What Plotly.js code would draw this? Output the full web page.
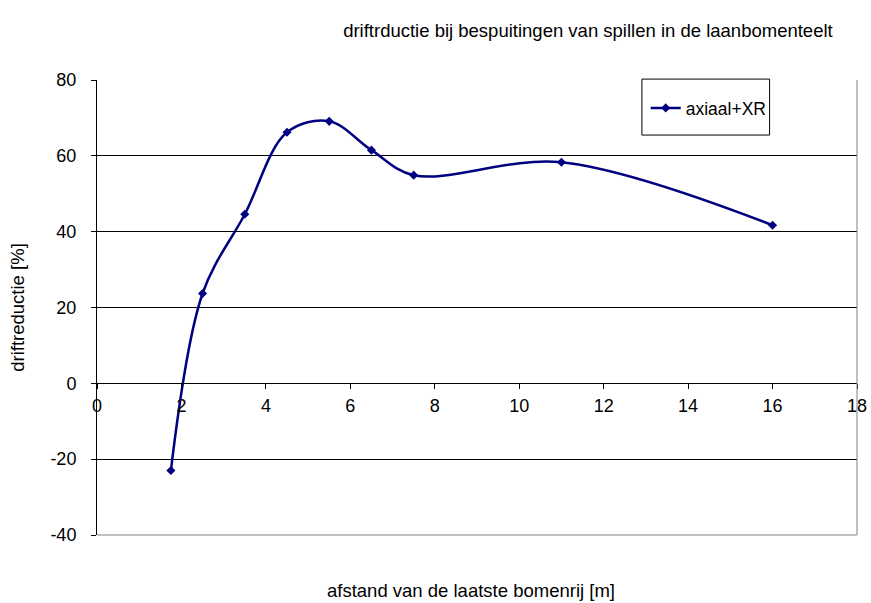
<!DOCTYPE html>
<html>
<head>
<meta charset="utf-8">
<script src="https://cdn.plot.ly/plotly-3.0.1.min.js"></script>
<style>html,body{margin:0;padding:0;background:#fff;}#chart{width:871px;height:603px;}</style>
</head>
<body>
<div id="chart"></div>
<script>
const distances = [1.75, 2.5, 3.5, 4.5, 5.5, 6.5, 7.5, 11, 16];
const reduction = [-23, 23.7, 44.6, 66.2, 69.1, 61.5, 54.9, 58.3, 41.7];
const seriesName = 'axiaal+XR';
const xTicks = [0, 2, 4, 6, 8, 10, 12, 14, 16, 18];
const yTicks = [-40, -20, 0, 20, 40, 60, 80];

const tickFont = {family: 'Arial', size: 18, color: '#000'};
const titleFont = {family: 'Arial', size: 18.5, color: '#000'};
const legendFont = {family: 'Arial', size: 17.5, color: '#000'};

const trace = {
  x: distances, y: reduction, name: seriesName,
  type: 'scatter', mode: 'lines+markers',
  line: {color: '#000080', width: 2.5, shape: 'spline', smoothing: 1},
  marker: {symbol: 'diamond', size: 7, color: '#000080'}
};

const layout = {
  width: 871, height: 603,
  margin: {l: 97, r: 14, t: 80, b: 68},
  paper_bgcolor: '#fff', plot_bgcolor: '#fff',
  font: tickFont,
  title: {text: 'driftrductie bij bespuitingen van spillen in de laanbomenteelt',
          font: titleFont,
          x: 0.675, xanchor: 'center', y: 0.949, yanchor: 'middle'},
  showlegend: true,
  legend: {x: 0.722, y: 0.978, xanchor: 'left', yanchor: 'top',
           bgcolor: 'rgba(0,0,0,0)', borderwidth: 0,
           font: legendFont},
  xaxis: {
    range: [0, 18], tickvals: xTicks, ticktext: xTicks.map(String),
    anchor: 'free', position: 1/3,
    showgrid: false, zeroline: false,
    showline: true, linecolor: '#000', linewidth: 1,
    ticks: 'outside', ticklen: 5, tickcolor: '#000',
    ticklabelstandoff: 1,
    tickfont: tickFont,
    title: {text: ''}
  },
  yaxis: {
    range: [-40, 80], tickvals: yTicks, ticktext: yTicks.map(String),
    showgrid: true, gridcolor: '#000', gridwidth: 1,
    zeroline: false,
    showline: true, linecolor: '#000', linewidth: 1,
    ticks: 'outside', ticklen: 5, tickcolor: '#000',
    ticklabelstandoff: 11,
    tickfont: tickFont,
    title: {text: 'driftreductie [%]', font: titleFont, standoff: 20}
  },
  annotations: [{
    text: 'afstand van de laatste bomenrij [m]', xref: 'paper', yref: 'paper',
    x: 0.492, y: -0.122, xanchor: 'center', yanchor: 'middle', showarrow: false,
    font: titleFont
  }],
  shapes: [
    {type: 'line', xref: 'paper', yref: 'paper', x0: 1, x1: 1, y0: 0, y1: 1,
     line: {color: '#808080', width: 1}},
    {type: 'line', xref: 'paper', yref: 'paper', x0: 0, x1: 1, y0: 0, y1: 0,
     line: {color: '#808080', width: 1}},
    {type: 'rect', xref: 'paper', yref: 'paper', x0: 0.717, x1: 0.885, y0: 0.879, y1: 1.002,
     fillcolor: '#fff', line: {color: '#000', width: 1}, layer: 'above'}
  ]
};

Plotly.newPlot('chart', [trace], layout, {displayModeBar: false, staticPlot: true});
</script>
</body>
</html>
